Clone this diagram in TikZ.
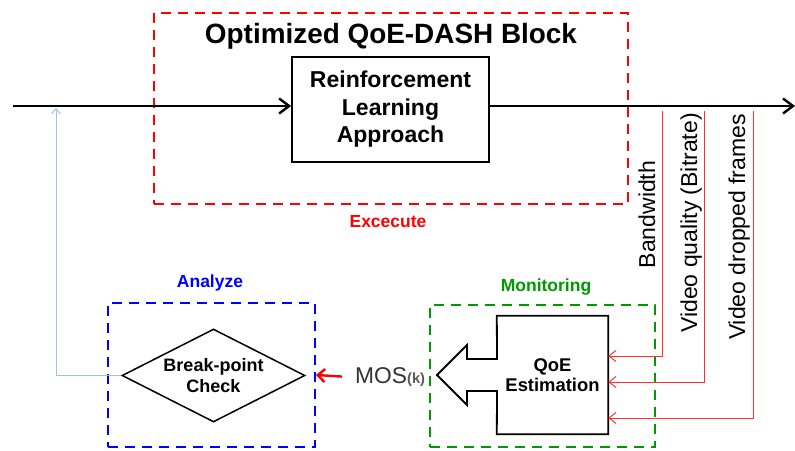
\documentclass[tikz,border=0pt]{standalone}
\usepackage{fontspec}
\setmainfont{Liberation Sans}
\usetikzlibrary{shapes.geometric,arrows.meta}

\definecolor{fbblue}{RGB}{157,195,230}
\definecolor{monigreen}{RGB}{0,153,0}
\definecolor{feedred}{RGB}{255,50,50}

\begin{document}
\begin{tikzpicture}[x=1pt,y=-1pt,
  phase/.style={draw,line width=2pt,dash pattern=on 10pt off 7pt,inner sep=0pt},
  block/.style={draw,line width=1.8pt,inner sep=0pt,align=center,
    font=\fontsize{23}{27.5}\selectfont\bfseries},
  tag/.style={font=\fontsize{17.5}{20}\selectfont\bfseries},
  param/.style={rotate=90,anchor=base,font=\fontsize{23}{26}\selectfont},
  feed/.style={feedred,line width=1pt,-{Straight Barb[length=7pt,width=11pt]}}]

\useasboundingbox (0,0) rectangle (795,450);

% the three phase boxes
\node[phase,red,minimum width=474pt,minimum height=191pt] (exbox) at (391,108.5) {};
\node[phase,blue,minimum width=207pt,minimum height=144pt] (anbox) at (211.5,375) {};
\node[phase,monigreen,minimum width=225pt,minimum height=142pt] (mobox) at (542.5,376) {};

\node[anchor=base,font=\fontsize{27.9}{30}\selectfont\bfseries] (title) at (391,43) {Optimized QoE-DASH Block};
\node[tag,red] (extag) at (388,222) {Excecute};
\node[tag,blue] (antag) at (210,283) {Analyze};
\node[tag,monigreen] (motag) at (546,287) {Monitoring};

% blocks
\node[block,minimum width=197pt,minimum height=105pt] (rl) at (390.5,109.5) {Reinforcement\\Learning\\Approach};
\node[draw,line width=1.5pt,diamond,aspect=1.97,inner sep=0pt,minimum width=183pt,minimum height=93pt,
  align=center,font=\fontsize{18}{21}\selectfont\bfseries] (bpc) at (213.5,375.5) {Break-point\\Check};
\node[align=center,inner sep=0pt,minimum width=111pt,minimum height=118pt,
  font=\fontsize{18.4}{20}\selectfont\bfseries] (qoe) at (552.5,375) {QoE\\Estimation};
\draw[line width=1.8pt,line join=miter] (qoe.north west) -- (qoe.north east) -- (qoe.south east) -- (qoe.south west)
  -- (497,391) -- (467,391) -- (467,405) -- (437,375) -- (467,345) -- (467,359) -- (497,359) -- cycle;

\node[anchor=base west,inner xsep=13pt,inner ysep=0pt,text=black!80,font=\fontsize{22.8}{24}\selectfont] (mos) at (342,383)
  {MOS{\fontsize{14.7}{16}\selectfont\bfseries\color{black!65}(k)}};

% main flow
\coordinate (in) at (13,106);
\coordinate (out) at (795,106);
\draw[line width=2.4pt,-{Straight Barb[length=10pt,width=15pt]}] (in) -- (rl.west |- in);
\draw[line width=2.4pt,-{Straight Barb[length=10pt,width=15pt]}] (rl.east |- in) -- (out);

% measured parameters
\coordinate (bwtap) at (662,111);
\coordinate (vqtap) at (704,111);
\coordinate (dftap) at (753,111);
\draw[feed] (bwtap) |- (qoe.east |- 0,356);
\draw[feed] (vqtap) |- (qoe.east |- 0,382);
\draw[feed] (dftap) |- (qoe.east |- 0,418);
\node[param] (bw) at (655,214.5) {Bandwidth};
\node[param] (vq) at (697,223) {Video quality (Bitrate)};
\node[param] (df) at (745,227) {Video dropped frames};

% MOS to analyze, feedback to the input
\draw[red,line width=2.4pt,-{Straight Barb[length=7pt,width=13pt]}] (mos.west) -- (anbox.east);
\coordinate (fbtop) at (56,108);
\draw[fbblue,line width=1pt,-{Straight Barb[length=5pt,width=9pt]}] (bpc.west) -| (fbtop);

\end{tikzpicture}
\end{document}
